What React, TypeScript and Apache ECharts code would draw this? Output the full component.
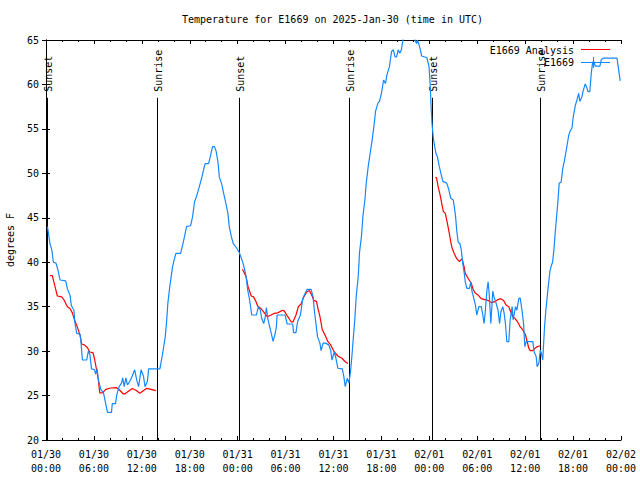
import React, { useEffect, useRef } from "react";
import * as echarts from "echarts";

const FONT = '"DejaVu Sans Mono", "Liberation Mono", monospace';

// x values are hours since 2025-01-30 00:00 UTC
const xTickLabels = [
  "01/30\n00:00", "01/30\n06:00", "01/30\n12:00", "01/30\n18:00",
  "01/31\n00:00", "01/31\n06:00", "01/31\n12:00", "01/31\n18:00",
  "02/01\n00:00", "02/01\n06:00", "02/01\n12:00", "02/01\n18:00",
  "02/02\n00:00",
];

const sunEventHours = [0.16, 13.84, 24.21, 37.97, 48.33, 61.88];
const sunEventLabels = ["Sunset", "Sunrise", "Sunset", "Sunrise", "Sunset", "Sunrise"];

const observed: [number, number][] = [
  [0.17, 44.0], [0.25, 43.6], [0.5, 42.1], [0.75, 41.3], [0.92, 40.0], [1.25, 39.9], [1.5, 39.1],
  [1.76, 38.0], [2.47, 37.9], [2.68, 37.0], [3.0, 36.3], [3.18, 35.1], [3.5, 34.6], [3.6, 33.3],
  [3.85, 32.0], [4.27, 31.9], [4.35, 31.3], [4.56, 29.0], [5.1, 29.0], [5.3, 30.0], [5.5, 29.6],
  [5.7, 28.0], [6.1, 27.9], [6.2, 27.4], [6.4, 28.0], [6.55, 26.8], [6.86, 25.7], [7.2, 25.3],
  [7.4, 24.4], [7.7, 23.1], [8.2, 23.1], [8.3, 24.1], [8.7, 24.1], [8.87, 25.1], [9.16, 26.0],
  [9.46, 26.4], [9.6, 27.0], [9.8, 26.0], [10.0, 27.0], [10.2, 26.2], [10.5, 26.6], [10.8, 27.2],
  [11.1, 27.9], [11.4, 26.6], [11.6, 26.0], [11.9, 27.9], [12.2, 27.2], [12.4, 26.0], [12.7, 26.6],
  [12.85, 28.0], [14.26, 28.0], [14.6, 29.7], [14.93, 31.6], [15.1, 33.3], [15.26, 35.4], [15.5, 37.25],
  [15.68, 38.4], [15.85, 39.5], [16.1, 40.45], [16.27, 41.0], [16.85, 41.0], [17.1, 41.9], [17.35, 42.9],
  [17.6, 44.0], [18.1, 44.1], [18.35, 45.1], [18.6, 46.8], [18.85, 47.4], [19.2, 48.5], [19.53, 49.6],
  [19.82, 50.75], [19.95, 51.1], [20.36, 51.1], [20.53, 51.7], [20.86, 53.0], [21.1, 53.0], [21.3, 52.5],
  [21.53, 51.3], [21.7, 49.6], [22.03, 48.7], [22.28, 47.6], [22.53, 46.6], [22.78, 45.5], [22.95, 44.0],
  [23.2, 42.9], [23.45, 42.1], [23.87, 41.6], [24.2, 41.1], [24.6, 40.1], [24.84, 39.3], [25.05, 38.4],
  [25.25, 36.9], [25.5, 35.75], [25.76, 34.06], [26.34, 34.06], [26.6, 35.0], [26.84, 34.6], [27.0, 33.7],
  [27.26, 33.1], [27.43, 33.7], [27.6, 34.9], [27.76, 33.7], [28.1, 32.4], [28.44, 31.1], [28.7, 32.0],
  [28.85, 32.75], [28.94, 34.06], [29.94, 34.06], [30.2, 33.05], [30.9, 33.05], [31.0, 32.07], [31.3, 32.07],
  [31.5, 33.3], [31.86, 34.06], [32.15, 35.9], [32.45, 36.5], [32.7, 36.95], [33.2, 36.95], [33.45, 36.1],
  [33.6, 34.6], [33.8, 33.1], [34.0, 31.6], [34.3, 30.9], [34.45, 30.05], [34.7, 30.9], [35.0, 30.9],
  [35.4, 30.7], [35.65, 30.1], [35.8, 29.0], [36.1, 29.9], [36.3, 29.2], [36.55, 28.07], [37.1, 28.0],
  [37.3, 27.1], [37.47, 26.0], [37.72, 26.94], [37.93, 26.4], [38.13, 27.7], [38.3, 29.4], [38.5, 31.7],
  [38.67, 33.6], [38.85, 36.2], [39.1, 38.45], [39.26, 41.1], [39.5, 42.9], [39.68, 45.15], [39.93, 47.0],
  [40.1, 48.9], [40.35, 50.8], [40.6, 52.3], [40.85, 53.8], [41.1, 55.6], [41.27, 57.0], [41.56, 57.9],
  [41.76, 58.1], [42.0, 59.0], [42.27, 60.5], [42.5, 60.1], [42.7, 61.1], [43.0, 62.0], [43.27, 63.7],
  [43.5, 63.9], [43.7, 63.1], [43.9, 63.1], [44.1, 63.9], [44.3, 63.5], [44.5, 63.9], [44.7, 65.0],
  [45.0, 66.0], [45.5, 66.5], [45.9, 66.0], [46.2, 65.0], [46.4, 64.6], [46.5, 65.0], [46.7, 64.5],
  [46.86, 63.95], [47.04, 63.2], [47.7, 63.0], [47.96, 62.0], [48.1, 60.1], [48.2, 57.9], [48.33, 55.6],
  [48.5, 54.0], [48.67, 53.0], [48.84, 52.2], [49.0, 51.9], [49.25, 50.75], [49.5, 49.8], [49.7, 49.1],
  [50.17, 48.9], [50.4, 48.3], [50.68, 47.2], [51.0, 47.0], [51.27, 45.3], [51.43, 43.6], [51.6, 42.3],
  [51.84, 42.05], [52.0, 41.4], [52.18, 39.9], [52.35, 38.9], [52.5, 37.8], [52.7, 37.06], [53.02, 37.06],
  [53.2, 37.8], [53.35, 36.7], [53.52, 36.1], [53.77, 35.2], [53.94, 34.06], [54.2, 35.0], [54.5, 35.0],
  [54.7, 34.06], [54.86, 33.1], [55.0, 34.4], [55.2, 36.75], [55.36, 37.8], [55.5, 36.4], [55.7, 33.1],
  [55.95, 36.75], [56.1, 36.1], [56.36, 35.4], [56.6, 34.6], [56.8, 33.1], [56.95, 34.4], [57.2, 35.0],
  [57.37, 34.25], [57.53, 33.1], [57.7, 31.06], [57.95, 31.06], [58.12, 33.5], [58.37, 35.0], [58.5, 33.5],
  [58.79, 35.0], [58.96, 34.6], [59.2, 35.9], [59.37, 36.0], [59.6, 34.6], [59.8, 33.1], [59.96, 30.5],
  [60.13, 31.06], [60.96, 31.06], [61.13, 29.9], [61.38, 29.4], [61.5, 28.25], [61.7, 28.6], [61.9, 30.1],
  [62.05, 29.7], [62.2, 29.0], [62.43, 32.8], [62.6, 34.7], [62.85, 36.95], [63.1, 39.0], [63.27, 39.6],
  [63.43, 40.0], [63.6, 41.4], [63.76, 43.3], [63.94, 45.2], [64.1, 46.8], [64.26, 48.9], [64.5, 49.0],
  [64.69, 50.45], [64.95, 51.6], [65.2, 52.9], [65.44, 54.2], [65.6, 54.7], [65.86, 55.1], [66.03, 56.4],
  [66.27, 57.6], [66.5, 58.3], [66.7, 59.0], [66.85, 58.1], [67.1, 58.6], [67.27, 59.3], [67.52, 60.05],
  [67.7, 59.7], [67.86, 59.2], [68.1, 59.2], [68.28, 61.3], [68.45, 62.5], [68.6, 62.6], [68.78, 62.05],
  [69.36, 62.05], [69.53, 62.8], [69.78, 62.95], [71.5, 62.95], [71.7, 61.7], [71.9, 60.4],
];

const analysisNight1: [number, number][] = [
  [0.5, 38.5], [0.79, 38.5], [1.13, 37.25], [1.42, 36.2], [1.97, 36.1], [2.26, 35.75], [2.68, 35.0],
  [3.0, 34.8], [3.3, 34.3], [3.5, 33.7], [3.93, 32.7], [4.26, 31.8], [4.47, 30.8], [4.8, 30.7],
  [5.18, 30.4], [5.48, 29.9], [5.9, 29.8], [6.1, 29.0], [6.3, 28.07], [6.56, 26.75], [6.73, 25.3],
  [7.07, 25.3], [7.49, 25.7], [8.1, 25.85], [8.8, 25.9], [9.24, 25.6], [9.66, 25.2], [9.9, 25.2],
  [10.41, 25.55], [10.8, 25.8], [11.25, 25.6], [11.75, 25.25], [12.17, 25.55], [12.58, 25.8],
  [13.13, 25.7], [13.76, 25.55],
];

const analysisNight2: [number, number][] = [
  [24.6, 39.2], [25.05, 38.4], [25.3, 37.25], [25.7, 36.2], [26.0, 36.1], [26.3, 35.56], [26.5, 35.07],
  [26.9, 34.8], [27.35, 34.3], [27.7, 33.87], [28.2, 34.06], [28.6, 34.25], [29.0, 34.3], [29.64, 34.6],
  [29.85, 34.5], [30.27, 33.87], [30.7, 33.3], [30.94, 33.3], [31.3, 34.06], [31.6, 35.0], [31.94, 35.3],
  [32.28, 36.1], [32.7, 36.7], [33.0, 36.8], [33.28, 36.3], [33.53, 35.7], [33.87, 35.6], [34.05, 34.8],
  [34.3, 33.9], [34.6, 32.4], [34.94, 31.8], [35.3, 31.06], [35.64, 30.7], [36.1, 29.9], [36.55, 29.45],
  [37.05, 29.2], [37.47, 28.8], [37.8, 28.6],
];

const analysisNight3: [number, number][] = [
  [48.75, 49.55], [48.9, 49.5], [49.1, 48.5], [49.34, 47.6], [49.6, 46.4], [49.76, 45.7], [50.0, 45.5],
  [50.26, 44.4], [50.5, 43.25], [50.68, 42.3], [50.85, 41.6], [51.1, 41.0], [51.43, 40.4], [51.77, 40.06],
  [52.1, 40.4], [52.35, 39.5], [52.5, 38.75], [52.85, 38.2], [53.27, 37.6], [53.5, 36.9], [53.77, 36.5],
  [54.1, 36.3], [54.5, 35.9], [54.94, 35.8], [55.36, 35.7], [55.8, 35.45], [56.2, 35.56], [56.6, 35.8],
  [56.95, 35.9], [57.3, 35.7], [57.6, 35.2], [57.95, 35.0], [58.2, 34.4], [58.45, 33.87], [58.7, 33.7],
  [59.04, 33.3], [59.37, 32.75], [59.7, 32.4], [60.05, 31.8], [60.2, 31.25], [60.46, 30.3], [60.63, 30.06],
  [60.96, 30.06], [61.2, 30.3], [61.5, 30.5], [61.9, 30.6],
];

const BLUE = "#1488ff";
const RED = "#ff0000";

export default function App() {
  const ref = useRef<HTMLDivElement>(null);
  useEffect(() => {
    if (!ref.current) return;
    const chart = echarts.init(ref.current, undefined, { renderer: "svg" });
    const axisLine = { show: true, lineStyle: { color: "#000", width: 1 } };
    const tick = { show: true, inside: true, length: 4, lineStyle: { color: "#000", width: 1 } };
    const minor = { show: true, splitNumber: 3, length: 2, lineStyle: { color: "#000", width: 1 } };
    const labelStyle = { color: "#000", fontFamily: FONT, fontSize: 10 };
    const analysisSeries = [analysisNight1, analysisNight2, analysisNight3].map((d) => ({
      type: "line",
      data: d,
      showSymbol: false,
      lineStyle: { color: RED, width: 1.2 },
      itemStyle: { color: RED },
      silent: true,
    }));
    chart.setOption({
      animation: false,
      backgroundColor: "#fff",
      title: {
        text: "Temperature for E1669 on 2025-Jan-30 (time in UTC)",
        left: 182,
        top: 14,
        padding: 0,
        textStyle: { fontFamily: FONT, fontSize: 10, fontWeight: "normal", color: "#000" },
      },
      grid: { left: 46, right: 19, top: 40, bottom: 40, containLabel: false, outerBoundsMode: "none" },
      xAxis: [
        {
          type: "value",
          min: 0,
          max: 72,
          interval: 6,
          position: "bottom",
          axisLine,
          axisTick: tick,
          minorTick: minor,
          splitLine: { show: false },
          axisLabel: {
            ...labelStyle,
            margin: 7,
            lineHeight: 14,
            formatter: (v: number) => xTickLabels[Math.round(v / 6)] ?? "",
          },
        },
        {
          type: "value",
          min: 0,
          max: 72,
          interval: 6,
          position: "top",
          axisLine,
          axisTick: tick,
          minorTick: minor,
          splitLine: { show: false },
          axisLabel: { show: false },
        },
      ],
      yAxis: [
        {
          type: "value",
          min: 20,
          max: 65,
          interval: 5,
          position: "left",
          name: "degrees F",
          nameLocation: "middle",
          nameGap: 31,
          nameTextStyle: labelStyle,
          axisLine,
          axisTick: tick,
          splitLine: { show: false },
          axisLabel: { ...labelStyle, margin: 7 },
        },
        {
          type: "value",
          min: 20,
          max: 65,
          interval: 5,
          position: "right",
          axisLine,
          axisTick: tick,
          splitLine: { show: false },
          axisLabel: { show: false },
        },
      ],
      series: [
        {
          type: "custom",
          data: sunEventHours.map((h) => [h]),
          silent: true,
          renderItem: (params: any, api: any) => {
            const x = Math.round(api.coord([api.value(0), 20])[0]) + 0.5;
            const yBottom = api.coord([0, 20])[1];
            const yTop = api.coord([0, 58.5])[1];
            return {
              type: "group",
              children: [
                {
                  type: "line",
                  shape: { x1: x, y1: yTop, x2: x, y2: yBottom },
                  style: { stroke: "#000", lineWidth: 1 },
                },
                {
                  type: "text",
                  x: x + 1,
                  y: yTop - 6,
                  rotation: Math.PI / 2,
                  style: {
                    text: sunEventLabels[params.dataIndex],
                    align: "left",
                    verticalAlign: "middle",
                    font: `10px ${FONT}`,
                    fill: "#000",
                  },
                },
              ],
            };
          },
        },
        ...analysisSeries,
        {
          type: "line",
          data: observed,
          showSymbol: false,
          lineStyle: { color: BLUE, width: 1.2 },
          itemStyle: { color: BLUE },
          silent: true,
        },
      ],
      graphic: [
        {
          type: "text",
          x: 574,
          y: 50,
          style: { text: "E1669 Analysis", align: "right", verticalAlign: "middle", font: `10px ${FONT}`, fill: "#000" },
        },
        {
          type: "line",
          shape: { x1: 581, y1: 49.5, x2: 610, y2: 49.5 },
          style: { stroke: RED, lineWidth: 1 },
        },
        {
          type: "text",
          x: 574,
          y: 62,
          style: { text: "E1669", align: "right", verticalAlign: "middle", font: `10px ${FONT}`, fill: "#000" },
        },
        {
          type: "line",
          shape: { x1: 581, y1: 62.5, x2: 610, y2: 62.5 },
          style: { stroke: BLUE, lineWidth: 1 },
        },
        {
          type: "line",
          shape: { x1: 593.5, y1: 57, x2: 593.5, y2: 68 },
          style: { stroke: BLUE, lineWidth: 1 },
        },
      ],
    });
    return () => chart.dispose();
  }, []);
  return (
    <div
      ref={ref}
      style={{ position: "absolute", left: 0, top: 0, width: 640, height: 480, background: "#fff" }}
    />
  );
}
